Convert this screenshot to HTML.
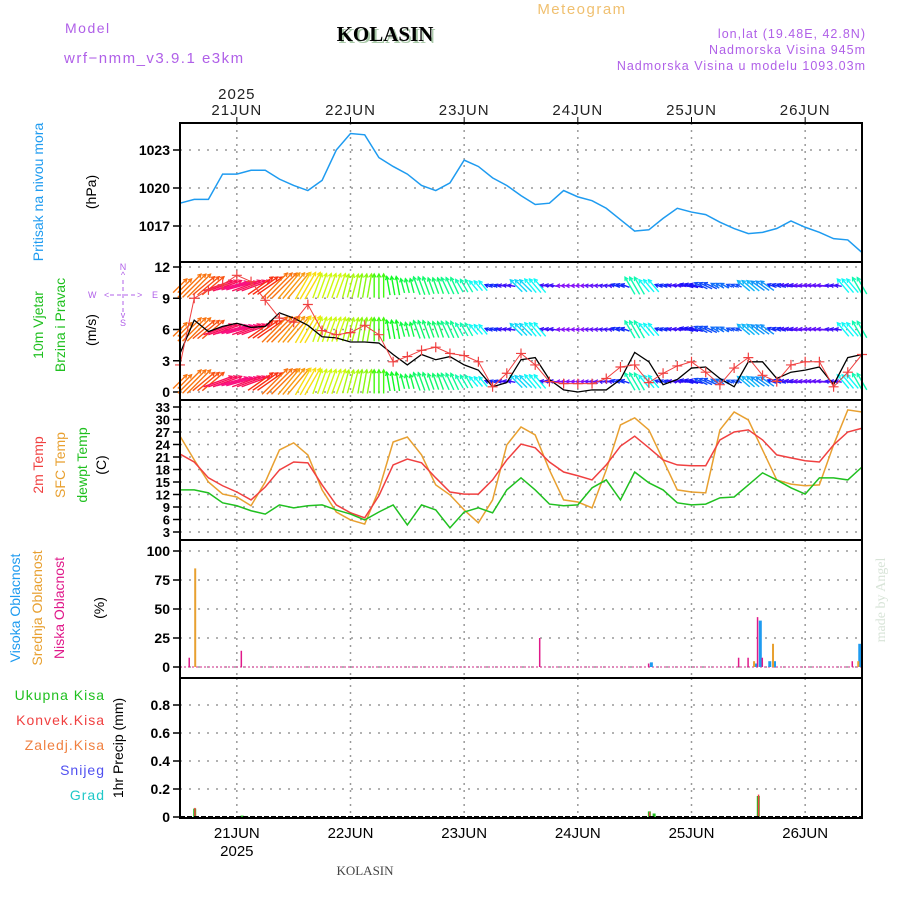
<!DOCTYPE html>
<html><head><meta charset="utf-8"><style>
html,body{margin:0;padding:0;background:#fff;}
svg{display:block;font-family:"Liberation Sans",sans-serif;}
</style></head><body>
<svg id="c" width="900" height="900" viewBox="0 0 900 900" xmlns="http://www.w3.org/2000/svg">
<text x="65" y="33" font-size="14" fill="#b060e8" letter-spacing="1.5">Model</text>
<text x="64" y="63" font-size="15" fill="#b060e8" letter-spacing="1.5">wrf−nmm_v3.9.1 e3km</text>
<text x="387" y="43" font-size="21" font-weight="bold" font-family="Liberation Serif,serif" fill="#a8c8a8" text-anchor="middle">KOLASIN</text>
<text x="385" y="41" font-size="21" font-weight="bold" font-family="Liberation Serif,serif" fill="#000" text-anchor="middle">KOLASIN</text>
<text x="582" y="14" font-size="15" fill="#f0c070" text-anchor="middle" letter-spacing="1.5">Meteogram</text>
<text x="866" y="38" font-size="12.5" fill="#b060e8" text-anchor="end" letter-spacing="1">lon,lat (19.48E, 42.8N)</text>
<text x="866" y="54" font-size="12.5" fill="#b060e8" text-anchor="end" letter-spacing="1">Nadmorska Visina 945m</text>
<text x="866" y="70" font-size="12.5" fill="#b060e8" text-anchor="end" letter-spacing="1">Nadmorska Visina u modelu 1093.03m</text>
<text x="365" y="875" font-size="13" font-family="Liberation Serif,serif" fill="#444" text-anchor="middle">KOLASIN</text>
<text transform="translate(885,600) rotate(-90)" font-size="14" font-family="Liberation Serif,serif" fill="#d8e4d8" text-anchor="middle">made by Angel</text>
<g id="labels" font-size="14">
<text transform="translate(43,192) rotate(-90)" fill="#1e9bf0" text-anchor="middle">Pritisak na nivou mora</text>
<text transform="translate(96,192) rotate(-90)" fill="#000" text-anchor="middle">(hPa)</text>
<text transform="translate(43,325) rotate(-90)" fill="#20c020" text-anchor="middle">10m Vjetar</text>
<text transform="translate(65,325) rotate(-90)" fill="#20c020" text-anchor="middle">Brzina i Pravac</text>
<text transform="translate(96,330) rotate(-90)" fill="#000" text-anchor="middle">(m/s)</text>
<text transform="translate(43,465) rotate(-90)" fill="#f04040" text-anchor="middle">2m Temp</text>
<text transform="translate(65,465) rotate(-90)" fill="#e8a030" text-anchor="middle">SFC Temp</text>
<text transform="translate(87,465) rotate(-90)" fill="#20c020" text-anchor="middle">dewpt Temp</text>
<text transform="translate(106,465) rotate(-90)" fill="#000" text-anchor="middle">(C)</text>
<text transform="translate(20,608) rotate(-90)" fill="#1e9bf0" text-anchor="middle">Visoka Oblacnost</text>
<text transform="translate(42,608) rotate(-90)" fill="#e8a030" text-anchor="middle">Srednja Oblacnost</text>
<text transform="translate(64,608) rotate(-90)" fill="#e0198a" text-anchor="middle">Niska Oblacnost</text>
<text transform="translate(104,608) rotate(-90)" fill="#000" text-anchor="middle">(%)</text>
<text x="105" y="700" fill="#20c020" text-anchor="end" letter-spacing="1">Ukupna Kisa</text>
<text x="105" y="725" fill="#f04040" text-anchor="end" letter-spacing="1">Konvek.Kisa</text>
<text x="105" y="750" fill="#f08040" text-anchor="end" letter-spacing="1">Zaledj.Kisa</text>
<text x="105" y="775" fill="#5050f0" text-anchor="end" letter-spacing="1">Snijeg</text>
<text x="105" y="800" fill="#20c8c8" text-anchor="end" letter-spacing="1">Grad</text>
<text transform="translate(123,748) rotate(-90)" fill="#000" text-anchor="middle">1hr Precip (mm)</text>
</g>
<g id="compass" fill="#b060e8" font-size="9">
<text x="123" y="270" text-anchor="middle">N</text><text x="123" y="278" text-anchor="middle">^</text>
<text x="88" y="298">W</text><text x="104" y="298">&lt;</text><text x="152" y="298">E</text><text x="137" y="298">&gt;</text>
<line x1="110" y1="295" x2="136" y2="295" stroke="#b060e8" stroke-dasharray="4,3"/>
<line x1="123" y1="280" x2="123" y2="313" stroke="#b060e8" stroke-dasharray="4,3"/>
<text x="123" y="318" text-anchor="middle">v</text><text x="123" y="326" text-anchor="middle">S</text>
</g>
<g id="plot"></g>
</svg>
<script>
// ---- data (hours from 20 JUN 12Z, 3-hourly) ----
const dayLabels = ["21JUN","22JUN","23JUN","24JUN","25JUN","26JUN"];
const dayHours = [12,36,60,84,108,132];
const pressure = [1018.8,1019.1,1019.1,1021.1,1021.1,1021.4,1021.4,1020.7,1020.2,1019.8,1020.6,1023.0,1024.3,1024.2,1022.4,1021.7,1021.1,1020.2,1019.8,1020.4,1022.2,1021.7,1020.8,1020.2,1019.4,1018.7,1018.8,1019.8,1019.3,1019.0,1018.4,1017.5,1016.6,1016.7,1017.6,1018.4,1018.1,1017.9,1017.3,1016.8,1016.4,1016.5,1016.8,1017.4,1016.9,1016.5,1016.0,1015.9,1014.9];
const windSpeed = [3.7,6.9,5.8,6.3,6.6,6.2,6.3,7.6,7.1,6.4,5.3,5.2,4.8,4.8,4.7,3.6,2.6,3.6,3.1,3.4,2.6,2.1,0.5,0.9,3.1,3.3,1.2,0.2,0,0.2,0.2,1.2,3.8,2.9,0.7,1.2,2.3,2.4,1.3,0.5,2.9,2.9,1.3,1.9,2.1,2.4,0.7,3.3,3.6];
const windGust = [2.6,9.0,9.8,10.3,11.2,10.6,8.8,7.1,6.7,8.4,5.9,5.5,5.7,6.4,5.5,2.9,3.4,4.0,4.3,3.7,3.5,2.9,0.5,1.8,3.7,2.6,1.0,0.8,0.8,0.8,1.3,2.4,2.6,0.9,1.8,2.5,2.9,1.9,0.7,2.3,3.3,1.6,1.0,2.6,2.9,2.9,0.5,1.9,3.6];
const windDir = [225,225,230,250,255,250,235,225,220,210,200,200,195,190,180,170,165,160,160,155,150,140,110,100,135,140,100,90,90,95,100,110,150,140,110,100,105,115,120,115,130,125,110,100,95,95,100,140,150];
const temp2m = [21.7,19.8,16.0,14.1,12.6,10.7,13.8,17.9,19.8,19.6,14.3,9.5,7.6,6.4,11.7,19.1,20.5,19.6,16.0,12.6,12.1,12.1,15.5,20.3,24.1,23.2,19.8,17.4,16.5,15.5,19.1,23.6,26.0,23.2,20.3,19.1,18.9,18.9,25.1,27.0,27.5,25.1,21.5,20.8,20.1,19.8,23.9,27.0,27.9];
const tempSfc = [26.0,20.3,15.0,12.1,11.4,9.3,15.0,22.7,24.4,21.5,13.1,7.8,5.9,4.9,13.1,24.6,25.8,21.5,14.3,11.9,8.3,5.2,10.7,23.9,28.2,26.3,17.9,10.7,10.2,8.8,17.9,28.7,30.4,27.5,20.3,13.1,12.6,12.4,27.5,31.8,29.9,22.7,15.5,14.5,14.1,14.3,23.9,32.3,31.8];
const dewpt = [13.1,13.1,12.4,10.0,9.3,8.1,7.3,9.5,8.8,9.3,9.5,8.3,7.3,5.9,7.8,9.5,4.7,9.5,8.3,4.0,7.8,8.8,7.6,13.1,16.0,13.1,9.7,9.3,9.5,13.6,15.5,10.7,17.4,14.8,13.1,10.0,9.5,9.7,11.2,11.4,14.3,17.2,15.5,13.6,12.1,16.0,16.0,15.5,18.6];
const lowCloudHours = [2,13,76,99,118,120,122,123,142];
const lowCloud = [8,14,25,3,8,8,43,8,5];
const midCloudHours = [3,121,125,143];
const midCloud = [85,5,20,5];
const highCloudHours = [99,121,122,124,125,143];
const highCloud = [4,3,40,5,5,20];
const totalPrecipHours = [3,13,14,99,100,122];
const totalPrecip = [0.06,0.01,0.005,0.04,0.025,0.15];
const convPrecipHours = [3,99,122];
const convPrecip = [0.065,0.035,0.16];
const pTicks = [1017,1020,1023];
const wTicks = [0,3,6,9,12];
const tTicks = [3,6,9,12,15,18,21,24,27,30,33];
const cTicks = [0,25,50,75,100];
const rTicks = [0,0.2,0.4,0.6,0.8];

const NS="http://www.w3.org/2000/svg";
const plot=document.getElementById('plot');
function mk(tag,attrs,parent){const e=document.createElementNS(NS,tag);for(const k in attrs)e.setAttribute(k,attrs[k]);(parent||plot).appendChild(e);return e;}
const X0=180,X1=862,HMAX=144;
const x=h=>X0+(h/HMAX)*(X1-X0);
function yScale(v0,y0,v1,y1){return v=>y0+(v-v0)*(y1-y0)/(v1-v0);}
const yP=yScale(1017,226,1023,150);
const yW=yScale(0,392,12,267);
const yT=yScale(3,532,33,407);
const yC=yScale(0,667,100,551);
const yR=yScale(0,817,0.8,705);
const panels=[
 {name:'pressure',top:123,bot:262,ticks:pTicks,ys:yP,fmt:v=>v},
 {name:'wind',top:262,bot:400,ticks:wTicks,ys:yW,fmt:v=>v},
 {name:'temperature',top:400,bot:540,ticks:tTicks,ys:yT,fmt:v=>v},
 {name:'cloud',top:540,bot:678,ticks:cTicks,ys:yC,fmt:v=>v},
 {name:'precip',top:678,bot:818,ticks:rTicks,ys:yR,fmt:v=>v===0?'0':v.toFixed(1)}
];
panels.forEach(p=>{
 const g=mk('g',{});
 
 
 dayHours.forEach(h=>{const l=mk('line',{x1:x(h),x2:x(h),y1:p.top,y2:p.bot,stroke:'#999','stroke-width':1.5,'stroke-dasharray':'2,5'},g);
  });
 p.ticks.forEach(t=>{const yy=p.ys(t);
  if(!(p.name==='precip'&&t===0)){const l=mk('line',{x1:X0,x2:X1,y1:yy,y2:yy,stroke:'#999','stroke-width':1.5,'stroke-dasharray':'2,7'},g);
  }
  const tk=mk('line',{x1:X0-7,x2:X0,y1:yy,y2:yy,stroke:'#000','stroke-width':1.5},g);
  
  const tx=mk('text',{x:X0-10,y:yy+5,'font-size':p.name==='temperature'?13:14,'text-anchor':'end',fill:'#000','font-weight':'bold'},g);
  
  tx.textContent=p.fmt(t);});
});
// series helpers
function line(vals,ys,color,name,w){const pts=vals.map((v,i)=>x(i*3)+','+ys(v)).join(' ');
 const e=mk('polyline',{points:pts,fill:'none',stroke:color,'stroke-width':w||1.5});
 return e;}
line(pressure,yP,'#1e9bf0','pressure-line');
// wind arrows (3 rows)
const rows=[1.0,6.0,10.2];
const wg=mk('g',{});

rows.forEach(rv=>{
 windDir.forEach((d,i)=>{
  for(let k=-1;k<=1;k++){
   const h=i*3+k; if(h<0||h>HMAX) continue;
   const hue=((270+(d-90)*(-1.81))%360+360)%360;
   const col='hsl('+hue+',95%,52%)';
   const L=4+windSpeed[i]*4.2;
   const a=(d+180)*Math.PI/180;
   const dx=Math.sin(a)*L, dy=-Math.cos(a)*L;
   const cx=x(h), cy=yW(rv);
   const x1=cx-dx/2,y1=cy-dy/2,x2=cx+dx/2,y2=cy+dy/2;
   const ar=mk('line',{x1:x1,y1:y1,x2:x2,y2:y2,stroke:col,'stroke-width':1.4},wg);
   
   const ang=Math.atan2(dy,dx);
   const hd=mk('polyline',{points:(x2-4*Math.cos(ang-0.5))+','+(y2-4*Math.sin(ang-0.5))+' '+x2+','+y2+' '+(x2-4*Math.cos(ang+0.5))+','+(y2-4*Math.sin(ang+0.5)),fill:'none',stroke:col,'stroke-width':1.2},wg);
   
  }
 });
});
line(windSpeed,yW,'#000','wind-speed-line',1.3);
line(windGust,yW,'#f04040','wind-gust-line',1);
const gg=mk('g',{});

windGust.forEach((v,i)=>{const cx=x(i*3),cy=yW(v);
 const m=mk('path',{d:'M'+(cx-5)+' '+cy+'h10M'+cx+' '+(cy-5)+'v10',stroke:'#f04040','stroke-width':1.2},gg);
 });
line(tempSfc,yT,'#e8a030','sfc-temp-line');
line(temp2m,yT,'#f04040','temp-2m-line');
line(dewpt,yT,'#20c020','dewpoint-line');
// cloud bars
const z=mk('line',{x1:X0,x2:X1,y1:yC(0),y2:yC(0),stroke:'#e070b0','stroke-width':1.5,'stroke-dasharray':'2,2'});

function bars(hours,vals,ys,color,name,off,w){hours.forEach((h,i)=>{const y0=ys(0),y1=ys(vals[i]);
 const r=mk('rect',{x:x(h)+off,y:y1,width:w,height:Math.max(0.5,y0-y1),fill:color});
 });}
bars(highCloudHours,highCloud,yC,'#1e9bf0','high-cloud-bar',1,3);
bars(midCloudHours,midCloud,yC,'#e8a030','mid-cloud-bar',0,2);
bars(lowCloudHours,lowCloud,yC,'#e0198a','low-cloud-bar',-1,1.5);
bars(totalPrecipHours,totalPrecip,yR,'#20c020','total-precip-bar',-1,3);
bars(convPrecipHours,convPrecip,yR,'#f04040','convective-precip-bar',0,1.5);
const base=mk('line',{x1:X0,x2:X1,y1:817,y2:817,stroke:'#000','stroke-width':2,'stroke-dasharray':'5,2'});

// frames
panels.forEach(p=>{const r=mk('rect',{x:X0,y:p.top,width:X1-X0,height:p.bot-p.top,fill:'none',stroke:'#000','stroke-width':2});
 });
// date axes
dayHours.forEach((h,i)=>{
 const t1=mk('line',{x1:x(h),x2:x(h),y1:117,y2:123,stroke:'#000'});
 const a=mk('text',{x:x(h),y:115,'font-size':15,'text-anchor':'middle',fill:'#222','letter-spacing':1});
 a.textContent=dayLabels[i];
 const b=mk('text',{x:x(h),y:838,'font-size':15,'text-anchor':'middle',fill:'#000'});
 b.textContent=dayLabels[i];
});
const y1=mk('text',{x:x(12),y:99,'font-size':15,'text-anchor':'middle',fill:'#222','letter-spacing':1});
y1.textContent='2025';
const y2=mk('text',{x:x(12),y:856,'font-size':15,'text-anchor':'middle',fill:'#000'});
y2.textContent='2025';
</script>
</body></html>
